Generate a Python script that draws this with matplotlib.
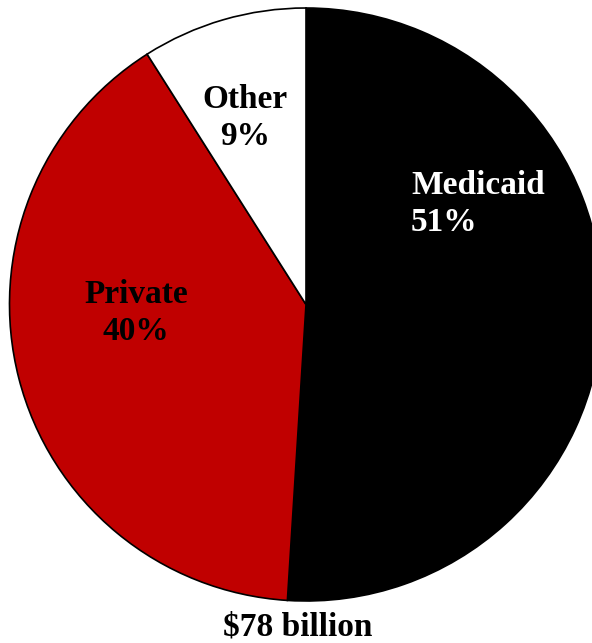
import matplotlib.pyplot as plt

# Medicaid financing share
labels = ["Medicaid", "Private", "Other"]
shares = [51, 40, 9]
colors = ["#000000", "#C00000", "#FFFFFF"]
total = "$78 billion"

plt.rcParams["font.family"] = ["Liberation Serif", "DejaVu Serif"]

fig = plt.figure(figsize=(5.92, 6.43), dpi=100)
ax = fig.add_axes([0, 0, 1, 1])

r = 296.5
ax.pie(shares, colors=colors, startangle=90, counterclock=False,
       radius=1, center=(0, 0),
       wedgeprops={"edgecolor": "black", "linewidth": 1.2})

def px(x, y):
    return (x - 306) / r, (304.5 - y) / r

# label positions in pixels (x, last-line baseline)
x, y = px(411, 231)
ax.text(x, y, labels[0] + "\n" + str(shares[0]) + "%", color="white",
        fontsize=24, fontweight="bold", ha="left", va="baseline",
        linespacing=1.25)
x, y = px(136, 340)
ax.text(x, y, labels[1] + "\n" + str(shares[1]) + "%", color="black",
        fontsize=24, fontweight="bold", ha="center", va="baseline",
        multialignment="center", linespacing=1.25)
x, y = px(245, 145)
ax.text(x, y, labels[2] + "\n" + str(shares[2]) + "%", color="black",
        fontsize=24, fontweight="bold", ha="center", va="baseline",
        multialignment="center", linespacing=1.25)
x, y = px(298, 635)
ax.text(x, y, total, color="black", fontsize=24, fontweight="bold",
        ha="center", va="baseline")

ax.set_xlim(-306 / r, (592 - 306) / r)
ax.set_ylim(-(643 - 304.5) / r, 304.5 / r)
ax.set_aspect("auto")
ax.axis("off")

plt.savefig("out.png", dpi=100)
